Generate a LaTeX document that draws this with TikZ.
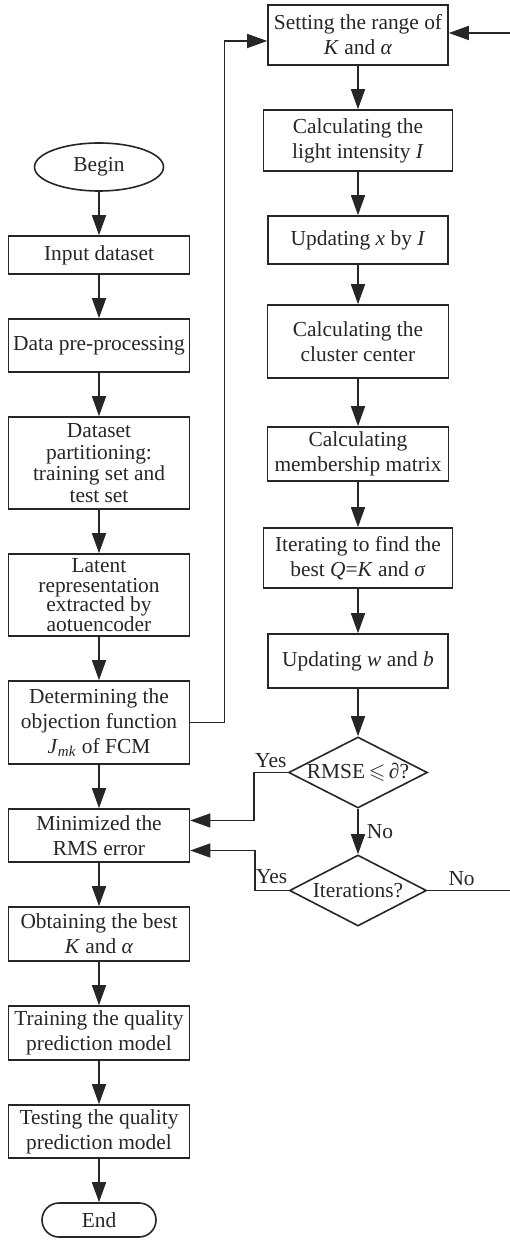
\documentclass[tikz,border=0pt]{standalone}
\usepackage{fontspec}
\setmainfont{Liberation Serif}
\usepackage{amssymb}
\usetikzlibrary{shapes.geometric, arrows.meta, positioning}

\begin{document}
\begin{tikzpicture}[node distance=21.7pt, auto,
		color=black!85, line width=0.8pt,
		font=\fontsize{10.7}{12.5}\selectfont,
		>={Triangle[length=10pt, width=7pt]},
		box/.style={draw, align=center, inner sep=1pt, minimum width=90.5pt},
		terminal/.style={draw, inner sep=1pt},
		decision/.style={draw, diamond, aspect=2, inner sep=0pt, minimum width=68.5pt, minimum height=35.5pt}]
	\useasboundingbox (0,0) rectangle (254.5pt,-620pt);

	% Left column
	\node[terminal, ellipse, minimum width=64.5pt, minimum height=24pt] (begin) at (49.5pt,-83.5pt) {Begin};
	\node[box, minimum height=19pt, below=of begin] (input) {Input dataset};
	\node[box, minimum height=26.5pt, below=of input] (prep) {Data pre-processing};
	\node[box, minimum height=46pt, below=of prep, font=\fontsize{10.7}{10.8}\selectfont] (split) {Dataset\\partitioning:\\training set and\\test set};
	\node[box, minimum height=41pt, below=of split, font=\fontsize{10.7}{9.8}\selectfont] (latent) {Latent\\representation\\extracted by\\aotuencoder};
	\node[box, minimum height=41.5pt, below=of latent] (objfun) {Determining the\\objection function\\\textit{J}\textsubscript{\textit{mk}} of FCM};
	\node[box, minimum height=26.5pt, below=of objfun] (minerr) {Minimized the\\RMS error};
	\node[box, minimum height=27pt, below=of minerr] (best) {Obtaining the best\\\textit{K} and \textit{α}};
	\node[box, minimum height=27pt, below=of best] (train) {Training the quality\\prediction model};
	\node[box, minimum height=26.5pt, below=of train] (test) {Testing the quality\\prediction model};
	\node[terminal, rounded corners=8.5pt, minimum width=57pt, minimum height=17pt, below=of test] (end) {End};

	% Right column
	\node[box, minimum width=90pt, minimum height=30pt] (range) at (179pt,-17.5pt) {Setting the range of\\\textit{K} and \textit{α}};
	\node[box, minimum width=94.5pt, minimum height=30.5pt, below=of range] (light) {Calculating the\\light intensity \textit{I}};
	\node[box, minimum width=90pt, minimum height=24pt, below=of light] (updx) {Updating \textit{x} by \textit{I}};
	\node[box, minimum height=36.5pt, below=19.7pt of updx] (center) {Calculating the\\cluster center};
	\node[box, minimum height=27pt, below=23.7pt of center] (member) {Calculating\\membership matrix};
	\node[box, minimum width=94.5pt, minimum height=30pt, below=22.7pt of member] (bestq) {Iterating to find the\\best \textit{Q}=\textit{K} and \textit{σ}};
	\node[box, minimum width=90pt, minimum height=27pt, below=22.2pt of bestq] (updwb) {Updating \textit{w} and \textit{b}};
	\node[decision, below=23.7pt of updwb] (rmse) {RMSE\,$\leqslant$\,\textit{∂}?};
	\node[decision, below=22.7pt of rmse] (iter) {Iterations?};
	\coordinate (back) at (256.5pt,0);

	% Arrows of the left column
	\draw[->] (begin) -- (input);
	\draw[->] (input) -- (prep);
	\draw[->] (prep) -- (split);
	\draw[->] (split) -- (latent);
	\draw[->] (latent) -- (objfun);
	\draw[->] (objfun) -- (minerr);
	\draw[->] (minerr) -- (best);
	\draw[->] (best) -- (train);
	\draw[->] (train) -- (test);
	\draw[->] (test) -- (end);

	% Arrows of the right column
	\draw[->] (range) -- (light);
	\draw[->] (light) -- (updx);
	\draw[->] (updx) -- (center);
	\draw[->] (center) -- (member);
	\draw[->] (member) -- (bestq);
	\draw[->] (bestq) -- (updwb);
	\draw[->] (updwb) -- (rmse);
	\draw[->] (rmse) -- node[right, inner sep=4pt] (no1) {No} (iter);

	% Loops between the columns
	\draw[->] (objfun.east) -- ++(17pt,0) |- ([yshift=-3pt]range.west);
	\draw[->] (rmse.west) -- node[above, inner sep=2pt] (yes1) {Yes} ++(-17pt,0) |- ([yshift=7.5pt]minerr.east);
	\draw[->] (iter.west) -- node[above, inner sep=3pt] (yes2) {Yes} ++(-17pt,0) |- ([yshift=-7.5pt]minerr.east);
	\draw[->] (iter.east) -- node[above, pos=0.4, inner sep=2pt] (no2) {No} (iter.east -| back) |- ([yshift=1pt]range.east);
\end{tikzpicture}
\end{document}
